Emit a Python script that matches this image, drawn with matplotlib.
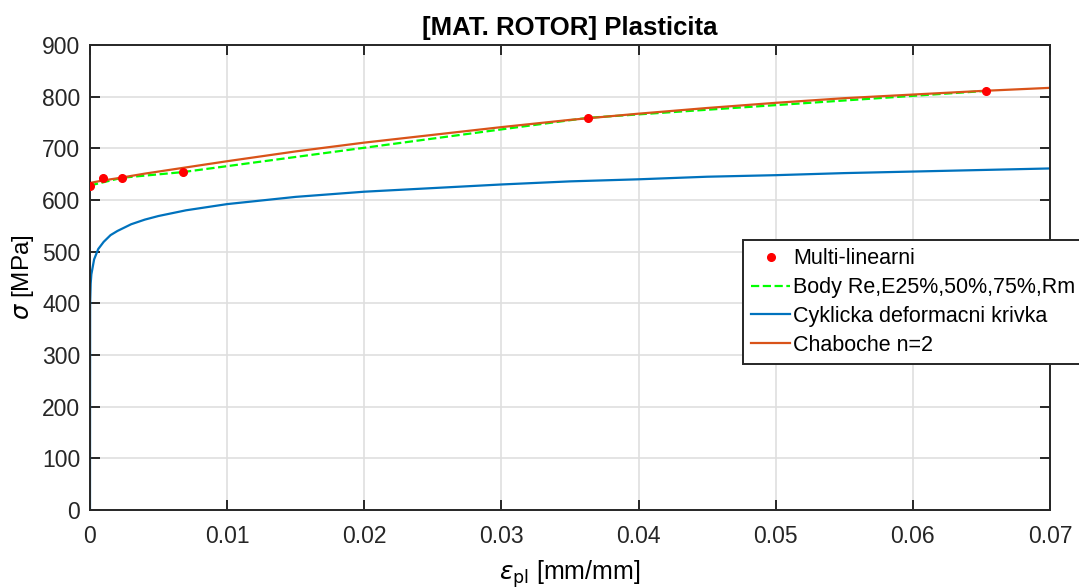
import matplotlib.pyplot as plt

plt.rcParams['font.family'] = ['Liberation Sans', 'DejaVu Sans']
plt.rcParams['mathtext.fontset'] = 'dejavusans'

# Multi-linear points
ml_eps = [0.0, 0.00095, 0.00233, 0.00678, 0.0363, 0.0653]
ml_sig = [628, 642, 643, 654, 759, 811]

# Body Re, E25%, 50%, 75%, Rm
body_eps = [0.0, 0.00233, 0.00678, 0.0363, 0.0653]
body_sig = [628, 643, 654, 759, 811]

# Cyclic deformation curve
cyc_eps = [0.0, 0.00001, 0.00005, 0.0001, 0.0003, 0.0006, 0.001, 0.0015, 0.002,
           0.003, 0.004, 0.005, 0.007, 0.01, 0.015, 0.02, 0.025, 0.03, 0.035,
           0.04, 0.045, 0.05, 0.055, 0.06, 0.065, 0.07]
cyc_sig = [0, 400, 438, 456, 485, 505, 519, 532, 540,
           553, 562, 569, 580, 592, 606, 616, 623, 630, 636,
           640, 645, 648, 652, 655, 658, 661]

# Chaboche n=2
cha_eps = [0.0, 0.001, 0.002, 0.004, 0.006, 0.008, 0.01, 0.015, 0.02, 0.025,
           0.03, 0.035, 0.04, 0.045, 0.05, 0.055, 0.06, 0.065, 0.07]
cha_sig = [633, 638, 642, 651, 659, 667, 675, 694, 711, 726,
           741, 755, 767, 778, 788, 797, 804, 811, 817]

fig = plt.figure(figsize=(10.79, 5.87), dpi=100)
ax = fig.add_axes([0.0834, 0.1312, 0.8897, 0.7922])

ax.plot(ml_eps, ml_sig, 'r.', markersize=11, label='Multi-linearni', zorder=5)
ax.plot(body_eps, body_sig, '--', color='#00FF00', lw=1.6, label='Body Re,E25%,50%,75%,Rm')
ax.plot(cyc_eps, cyc_sig, color='#0072BD', lw=1.6, label='Cyklicka deformacni krivka')
ax.plot(cha_eps, cha_sig, color='#D95319', lw=1.6, label='Chaboche n=2')

ax.set_xlim(0, 0.07)
ax.set_ylim(0, 900)
ax.set_xticks([0, 0.01, 0.02, 0.03, 0.04, 0.05, 0.06, 0.07])
ax.set_xticklabels(['0', '0.01', '0.02', '0.03', '0.04', '0.05', '0.06', '0.07'])
ax.set_yticks(range(0, 901, 100))

ax.grid(True, color='#DFDFDF', lw=1.2)
ax.set_axisbelow(True)
ax.tick_params(direction='in', top=True, right=True, labelsize=16.5, colors='#262626',
               length=7, width=1.4)
ax.tick_params(axis='x', pad=11)
ax.tick_params(axis='y', pad=7)
for s in ax.spines.values():
    s.set_color('#262626')
    s.set_linewidth(1.4)

ax.set_title('[MAT. ROTOR] Plasticita', fontsize=18.5, fontweight='bold', pad=7)
ax.set_xlabel(r'$\epsilon_{\rm pl}$ [mm/mm]', fontsize=18, labelpad=7)
ax.set_ylabel(r'$\sigma$ [MPa]', fontsize=17.5, labelpad=4)

leg = ax.legend(loc='upper left', bbox_to_anchor=(0.680, 0.581), fontsize=15.5,
                frameon=True, fancybox=False, edgecolor='#262626', framealpha=1,
                borderpad=0.4, labelspacing=0.36, handlelength=1.8, handletextpad=0.15,
                borderaxespad=0)
leg.get_frame().set_linewidth(1.4)

fig.savefig('out.png', dpi=100)
